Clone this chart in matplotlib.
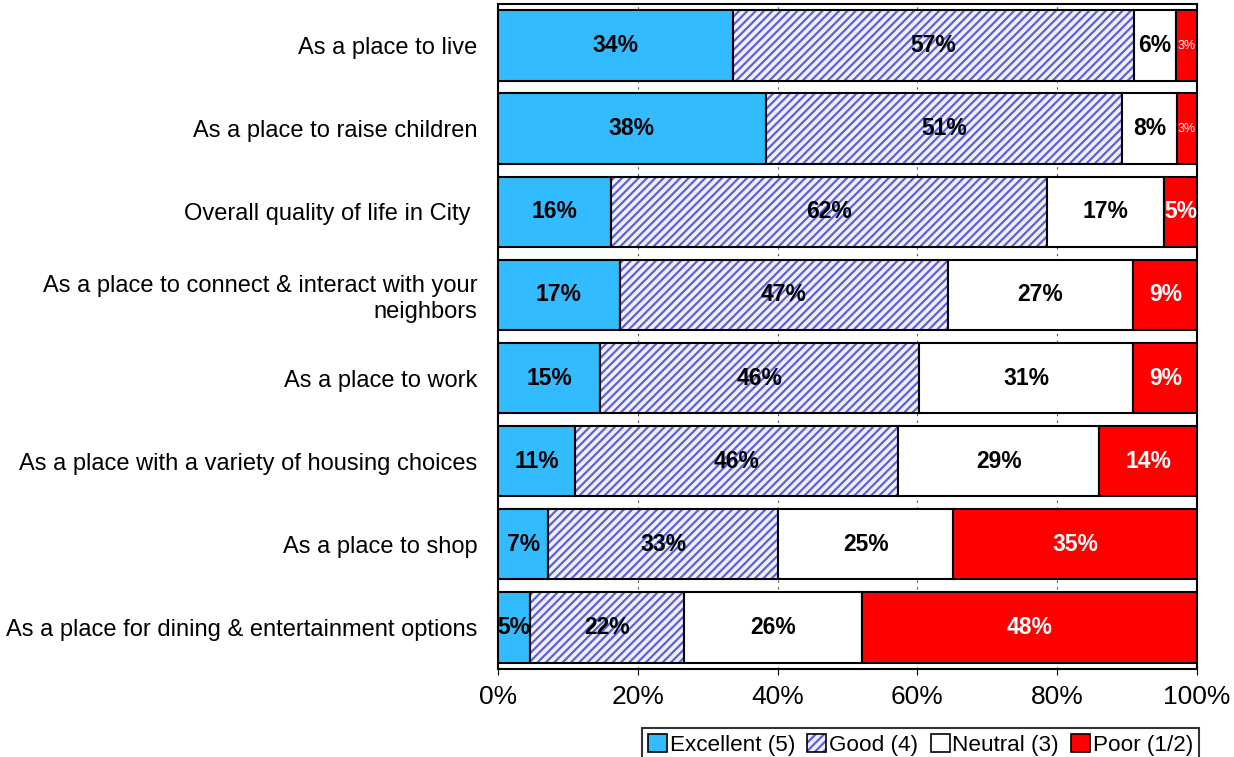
import numpy as np
import matplotlib
matplotlib.use("Agg")
import matplotlib.pyplot as plt
from matplotlib.patches import Patch
from matplotlib.legend_handler import HandlerTuple

plt.rcParams['font.family'] = ['Liberation Sans', 'DejaVu Sans']
plt.rcParams['hatch.linewidth'] = 1.6

# Survey categories (top to bottom)
categories = [
    "As a place to live",
    "As a place to raise children",
    "Overall quality of life in City ",
    "As a place to connect & interact with your\nneighbors",
    "As a place to work",
    "As a place with a variety of housing choices",
    "As a place to shop",
    "As a place for dining & entertainment options",
]

# Percent shares per rating
excellent = [33.6, 38.3, 16.2, 17.4, 14.6, 11.0, 7.2, 4.6]
good      = [57.4, 51.0, 62.3, 46.9, 45.6, 46.2, 32.9, 22.0]
neutral   = [6.0, 7.8, 16.8, 26.6, 30.7, 28.8, 25.0, 25.5]
poor      = [3.0, 2.9, 4.7, 9.1, 9.1, 14.0, 34.9, 47.9]

series_names = ["Excellent (5)", "Good (4)", "Neutral (3)", "Poor (1/2)"]

blue = '#33bbff'
lav = '#f0f0ff'
hatch_col = '#6060dc'
red = '#ff0000'

fig = plt.figure(figsize=(12.34, 7.57), dpi=100)
ax = fig.add_axes([0.4036, 0.1165, 0.5665, 0.878])

y = np.arange(len(categories))
h = 0.85
vals = [np.array(excellent), np.array(good), np.array(neutral), np.array(poor)]
left = np.zeros(len(categories))

for i, v in enumerate(vals):
    if i == 1:
        ax.barh(y, v, h, left=left, color=lav, edgecolor=hatch_col, hatch='////',
                linewidth=0, zorder=2)
        ax.barh(y, v, h, left=left, color='none', edgecolor='black', linewidth=1.5, zorder=3)
    else:
        fc = [blue, None, 'white', red][i]
        ax.barh(y, v, h, left=left, color=fc, edgecolor='black', linewidth=1.5, zorder=3)
    for j in range(len(categories)):
        lab = f"{round(v[j]):.0f}%"
        cx = left[j] + v[j] / 2
        if i == 3:
            if v[j] < 4:
                ax.text(cx, y[j], lab, ha='center', va='center', color='white',
                        fontsize=9, zorder=4)
            else:
                ax.text(cx, y[j], lab, ha='center', va='center', color='white',
                        fontsize=16.5, fontweight='bold', zorder=4)
        else:
            ax.text(cx, y[j], lab, ha='center', va='center', color='black',
                    fontsize=16.5, fontweight='bold', zorder=4)
    left = left + v

ax.set_xlim(0, 100)
ax.set_ylim(len(categories) - 0.5, -0.5)
ax.set_xticks(np.arange(0, 101, 20))
ax.set_xticklabels([f"{t}%" for t in range(0, 101, 20)], fontsize=19)
ax.set_yticks(y)
ax.set_yticklabels(categories, fontsize=17, ha='right')
ax.tick_params(axis='y', length=0, pad=15)
ax.tick_params(axis='x', length=4, pad=8)
ax.xaxis.grid(True, linestyle=(0, (2, 4)), color='#555555', linewidth=0.8, zorder=0)
ax.set_axisbelow(True)
for s in ax.spines.values():
    s.set_linewidth(1.5)

# legend
hp = Patch(facecolor=lav, edgecolor=hatch_col, hatch='////', linewidth=0)
hb = Patch(facecolor='none', edgecolor='black', linewidth=1.2)
handles = [Patch(facecolor=blue, edgecolor='black', linewidth=1.2), (hp, hb),
           Patch(facecolor='white', edgecolor='black', linewidth=1.2),
           Patch(facecolor=red, edgecolor='black', linewidth=1.2)]
leg = fig.legend(handles, series_names, loc='upper center', bbox_to_anchor=(0.746, 0.038),
                 ncol=4, fontsize=16.2, frameon=True, fancybox=False, edgecolor='black',
                 handlelength=0.85, handleheight=0.85, handletextpad=0.12, columnspacing=0.55,
                 borderpad=0.25, borderaxespad=0,
                 handler_map={tuple: HandlerTuple(ndivide=1, pad=0)})
leg.get_frame().set_linewidth(1.5)

fig.savefig("out.png", dpi=100)
